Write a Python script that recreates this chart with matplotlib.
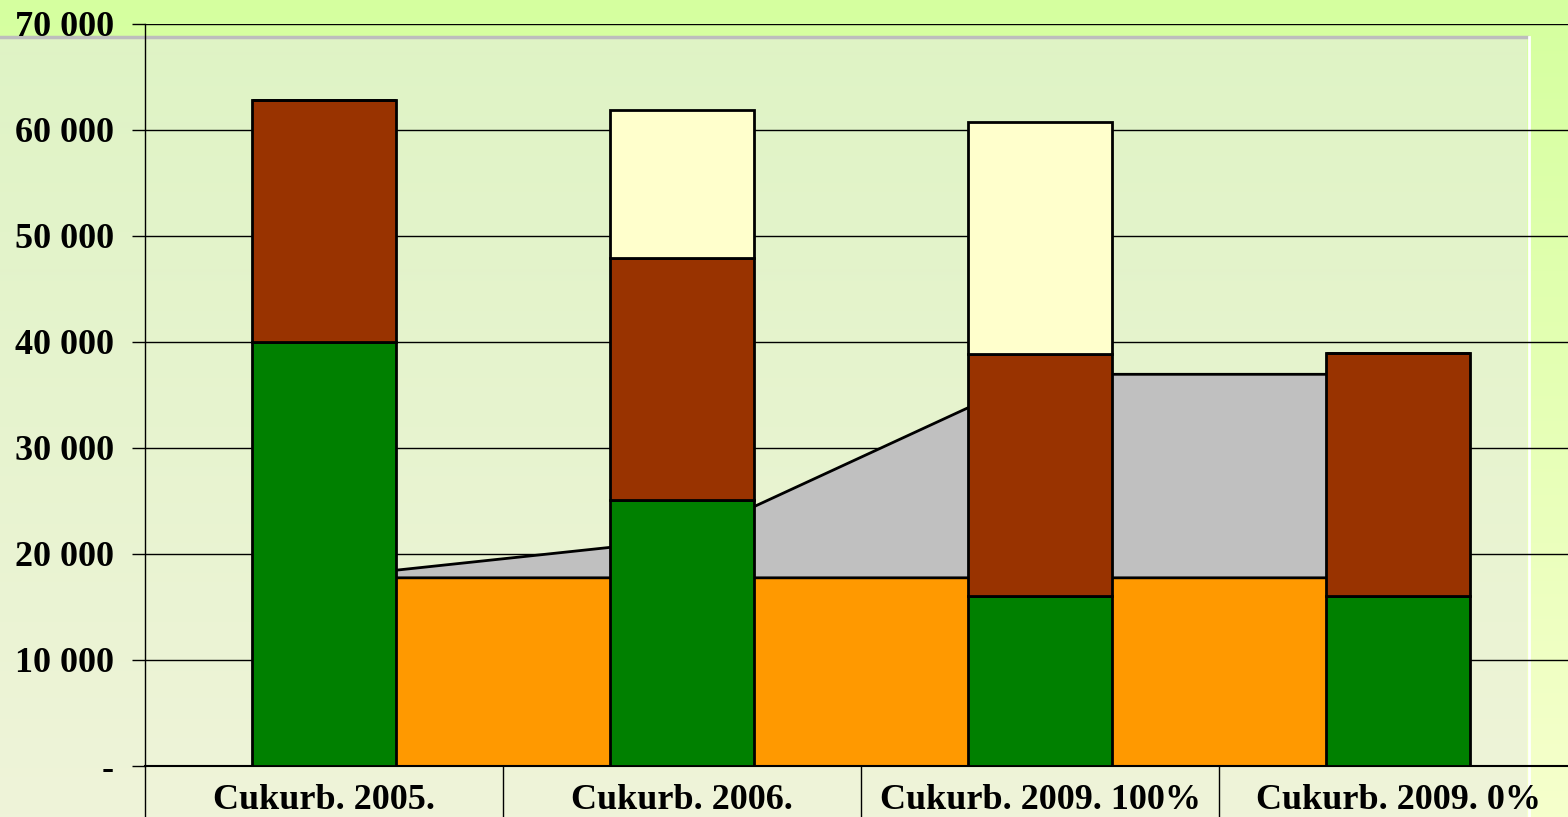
import numpy as np
import matplotlib.pyplot as plt
from matplotlib.ticker import FuncFormatter

categories = ["Cukurb. 2005.", "Cukurb. 2006.", "Cukurb. 2009. 100%", "Cukurb. 2009. 0%"]
green_vals = [40000, 25100, 16000, 16000]
brown_vals = [22800, 22800, 22900, 23000]
yellow_vals = [0, 14000, 21900, 0]
orange_area = [17800, 17800, 17800, 17800]
gray_area = [0, 3600, 19200, 19200]

W, H = 1568, 817
fig = plt.figure(figsize=(W / 100, H / 100), dpi=100)

# background: bright green slide + lighter inner panel
bg = fig.add_axes([0, 0, 1, 1], zorder=-10)
bg.axis("off")
top_c = np.array([0xD5, 0xFF, 0x9F]) / 255
bot_c = np.array([0xF6, 0xFF, 0xCC]) / 255
t = np.linspace(0, 1, 256)[:, None]
grad = top_c * (1 - t[..., None]) + bot_c * t[..., None]
bg.imshow(grad, extent=[0, W, H, 0], aspect="auto")
in_top = np.array([0xDF, 0xF3, 0xC5]) / 255
in_bot = np.array([0xEF, 0xF3, 0xD9]) / 255
grad2 = in_top * (1 - t[..., None]) + in_bot * t[..., None]
bg.imshow(grad2, extent=[0, 1527, H, 37], aspect="auto")
bg.plot([0, 1527], [37, 37], color="#bdbdbd", lw=2.5)
bg.plot([1529, 1529], [37, H], color="white", lw=2)
bg.set_xlim(0, W)
bg.set_ylim(H, 0)

ax = fig.add_axes([145 / W, 51 / H, (1577 - 145) / W, 742 / H])
ax.patch.set_visible(False)
x = np.arange(len(categories))

# stacked area behind the columns
o = np.array(orange_area)
g = o + np.array(gray_area)
ax.fill_between(x, 0, o, facecolor="#FF9900", edgecolor="black", lw=2, zorder=2)
ax.fill_between(x, o, g, facecolor="#C0C0C0", edgecolor="black", lw=2, zorder=2)

# stacked columns
w = 0.405
gv = np.array(green_vals)
bv = np.array(brown_vals)
yv = np.array(yellow_vals)
ax.bar(x, gv, w, color="#008000", edgecolor="black", lw=2, zorder=3)
ax.bar(x, bv, w, bottom=gv, color="#993300", edgecolor="black", lw=2, zorder=3)
ax.bar(x, yv, w, bottom=gv + bv, color="#FFFFCC", edgecolor="black", lw=2, zorder=3)

ax.set_xlim(-0.5, 3.5)
ax.set_ylim(0, 70000)
ax.set_yticks(np.arange(0, 70001, 10000))
ax.yaxis.set_major_formatter(FuncFormatter(lambda v, p: "-" if v == 0 else f"{int(v):,}".replace(",", " ")))
ax.grid(axis="y", color="black", lw=1, zorder=0)
ax.set_axisbelow(True)

for lab in ax.get_yticklabels():
    lab.set_fontfamily("Liberation Serif")
    lab.set_fontsize(26)
    lab.set_fontweight("bold")
ax.tick_params(axis="y", length=9.5, width=1, pad=13)

ax.set_xticks(x)
ax.set_xticklabels(categories, fontfamily="Liberation Serif", fontweight="bold", fontsize=26)
ax.set_xticks([-0.5, 0.5, 1.5, 2.5], minor=True)
ax.tick_params(axis="x", which="major", length=0, pad=13)
ax.tick_params(axis="x", which="minor", length=37, width=1)

for s in ["top", "right"]:
    ax.spines[s].set_visible(False)
ax.spines["left"].set_linewidth(1)
ax.spines["bottom"].set_linewidth(1.5)

fig.savefig("out.png", dpi=100)
